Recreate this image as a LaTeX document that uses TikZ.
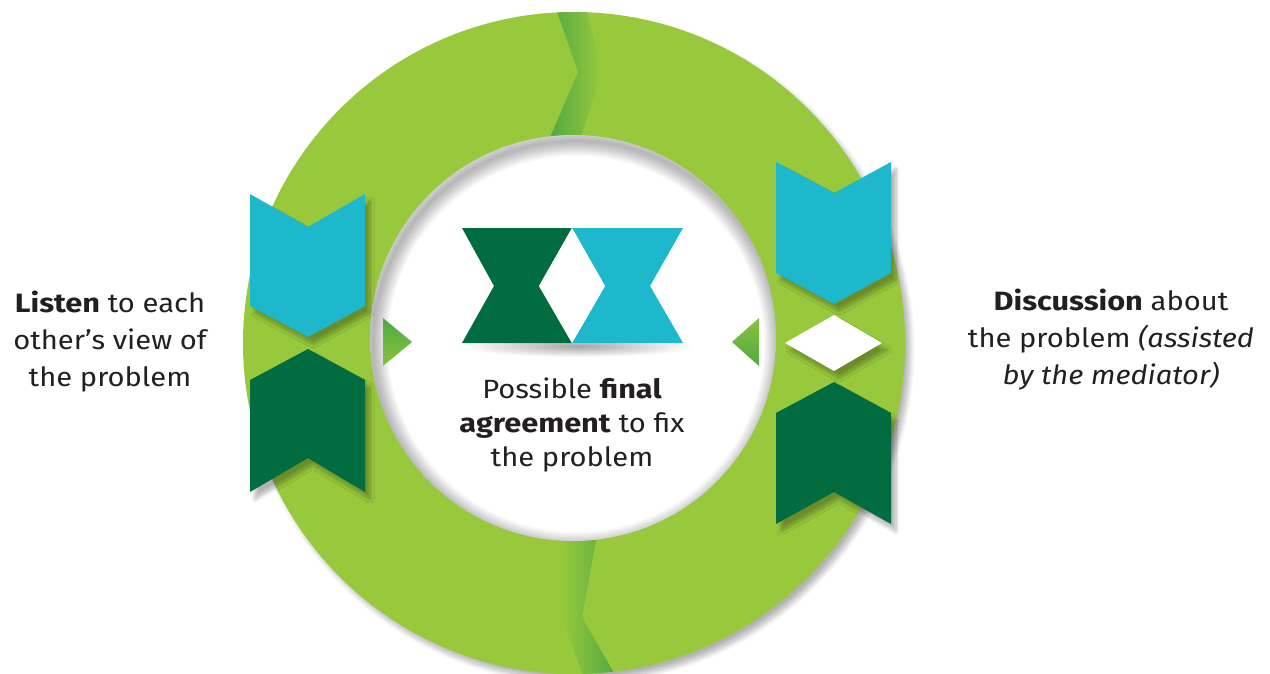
\documentclass[tikz,border=0pt]{standalone}
\usepackage{fontspec}
\setmainfont{Fira Sans}[FakeStretch=1.1, BoldFeatures={FakeStretch=1.16}]
\usetikzlibrary{shadows.blur,calc}
\definecolor{ringgreen}{RGB}{152,201,60}
\definecolor{bandgreen}{RGB}{80,168,68}
\definecolor{darkgreen}{RGB}{0,108,63}
\definecolor{cyanblue}{RGB}{29,184,203}
\definecolor{textgray}{RGB}{35,31,32}
\tikzset{
  txt/.style={align=center, inner sep=0pt, text=textgray, font=\fontsize{26.5}{37}\selectfont},
  chev/.style={blur shadow={shadow xshift=5pt, shadow yshift=-7pt, shadow blur radius=4pt, shadow blur steps=10, shadow opacity=30}},
  tri/.style={top color=#1, bottom color=ringgreen!80!bandgreen},
}
\begin{document}
\begin{tikzpicture}[x=1pt, y=-1pt]
\useasboundingbox (0,0) rectangle (1270,673);
\coordinate (ring) at (574,343);
\coordinate (disk) at (573,338);
% outer ring
\fill[ringgreen, blur shadow={shadow xshift=5pt, shadow yshift=-6pt, shadow blur radius=5pt, shadow blur steps=10, shadow opacity=30}] (ring) circle (331pt);
\begin{scope}
  \clip (ring) circle (331pt);
  \shade[left color=bandgreen, right color=ringgreen] (553,0) -- (584,0) -- (602,72) -- (580,140) -- (549,140) -- (578,72) -- cycle;
  \shade[left color=ringgreen, right color=bandgreen] (565,540) -- (596,540) -- (582,617) -- (618,680) -- (585,680) -- (561,617) -- cycle;
\end{scope}
% white centre and its inner shadow
\fill[white] (disk) circle (203pt);
\begin{scope}
  \clip (disk) circle (203pt);
  \foreach \w in {2,4,...,30}
    \draw[black, opacity=0.018, line width=\w pt] ($(disk)+(3,6)$) circle (203pt);
\end{scope}
% small arrow heads
\shade[tri=bandgreen] (383,318) -- (412,342) -- (383,366) -- cycle;
\shade[top color=ringgreen!80!bandgreen, bottom color=bandgreen] (759,318) -- (732,342) -- (759,366) -- cycle;
% left chevrons
\fill[cyanblue, chev] (250,194) -- (308,227) -- (365,194) -- (365,306) -- (308,337) -- (250,306) -- cycle;
\fill[darkgreen, chev] (250,380) -- (308,349) -- (365,380) -- (365,492) -- (308,458) -- (250,492) -- cycle;
% right chevrons
\fill[cyanblue, chev] (776,162) -- (834,193) -- (891,162) -- (891,273) -- (834,304) -- (776,273) -- cycle;
\fill[white, chev] (785,343) -- (834,315) -- (882,343) -- (834,371) -- cycle;
\fill[darkgreen, chev] (776,413) -- (834,382) -- (891,413) -- (891,524) -- (834,492) -- (776,524) -- cycle;
% centre icon
\shade[inner color=black!35, outer color=white] (578,346) ellipse (115pt and 11pt);
\fill[darkgreen] (462,228) -- (572,228) -- (539,286) -- (572,343) -- (462,343) -- (494,286) -- cycle;
\fill[cyanblue] (572,228) -- (683,228) -- (650,286) -- (683,343) -- (572,343) -- (605,286) -- cycle;
\fill[white] (572,228) -- (605,286) -- (572,343) -- (539,286) -- cycle;
% texts
\node[txt] (listen) at (110,342) {\textbf{Listen} to each\\other’s view of\\the problem};
\node[txt] (discuss) at (1111,340) {\textbf{Discussion} about\\the problem \textit{(assisted}\\\textit{by the mediator)}};
\node[txt, font=\fontsize{26.5}{34}\selectfont] (agree) at (572,425) {Possible \textbf{final}\\\textbf{agreement} to fix\\the problem};
\end{tikzpicture}
\end{document}
